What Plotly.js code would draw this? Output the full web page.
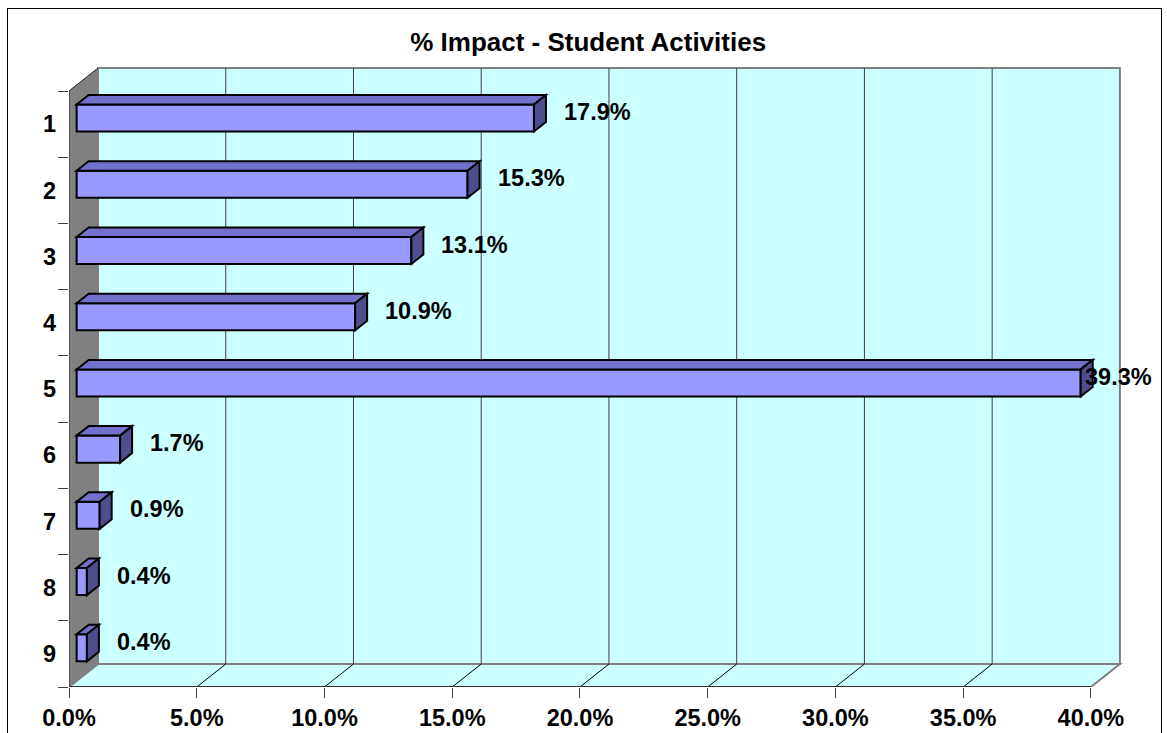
<!DOCTYPE html>
<html>
<head>
<meta charset="utf-8">
<script src="https://cdn.plot.ly/plotly-3.0.1.min.js"></script>
<style>
  html, body { margin: 0; padding: 0; background: #fff; }
  #wrap { position: relative; width: 1167px; height: 733px; overflow: hidden; }
  #chart { position: absolute; left: 0; top: 0; width: 1167px; height: 733px; }
  #frame { position: absolute; left: 7px; top: 8px; width: 1153px; height: 740px;
           border: 1px solid #000; pointer-events: none; }
</style>
</head>
<body>
<div id="wrap">
  <div id="chart"></div>
  <div id="frame"></div>
</div>
<script>
// ---- data ----
const categories = ['1', '2', '3', '4', '5', '6', '7', '8', '9'];
const impact = [17.9, 15.3, 13.1, 10.9, 39.3, 1.7, 0.9, 0.4, 0.4];
const tickValues = [0, 5, 10, 15, 20, 25, 30, 35, 40];
const tickLabels = ['0.0%', '5.0%', '10.0%', '15.0%', '20.0%', '25.0%', '30.0%', '35.0%', '40.0%'];
const valueLabels = ['17.9%', '15.3%', '13.1%', '10.9%', '39.3%', '1.7%', '0.9%', '0.4%', '0.4%'];
const chartTitle = '% Impact - Student Activities';

// ---- 3D geometry (in axis units) ----
const XMAX = 41.53;          // axis range beyond 40 to hold the back plane
const YTOP = 0.1225;         // axis range above first band for the back plane
const DXB = 1.135, DYB = 0.347;   // depth of the box
const BX = 0.30, BY = 0.092;      // bar front-face depth offset
const DDX = 0.47, DDY = 0.1435;   // bar depth
const HALF = 0.204;               // half bar thickness
const LABEL_GAP = 1.1, LABEL_MAX = 39.7;

const pos = categories.map((c, i) => i + 1);
const bounds = [0.5].concat(pos.map(p => p + 0.5));
const yFirst = bounds[0], yLast = bounds[bounds.length - 1];
const xFirst = tickValues[0], xLast = tickValues[tickValues.length - 1];

const FONT = 'Liberation Sans, Arial, sans-serif';
const shapes = [];
function path(pts) { return 'M' + pts.map(p => p[0] + ',' + p[1]).join(' L') + ' Z'; }

// back plane
shapes.push({type: 'rect', xref: 'x', yref: 'y', layer: 'below',
  x0: xFirst + DXB, x1: xLast + DXB, y0: yFirst - DYB, y1: yLast - DYB,
  fillcolor: '#CCFFFF', line: {color: '#808080', width: 2}});
// floor
shapes.push({type: 'path', xref: 'x', yref: 'y', layer: 'below',
  path: path([[xFirst, yLast], [xLast, yLast], [xLast + DXB, yLast - DYB], [xFirst + DXB, yLast - DYB]]),
  fillcolor: '#CCFFFF', line: {color: '#808080', width: 2}});
// gridlines on back plane and floor
tickValues.slice(1, -1).forEach(v => {
  shapes.push({type: 'line', xref: 'x', yref: 'y', layer: 'below',
    x0: v + DXB, x1: v + DXB, y0: yFirst - DYB, y1: yLast - DYB,
    line: {color: '#404040', width: 1}});
  shapes.push({type: 'line', xref: 'x', yref: 'y', layer: 'below',
    x0: v + DXB, x1: v, y0: yLast - DYB, y1: yLast,
    line: {color: '#000000', width: 1}});
});
// left wall
shapes.push({type: 'path', xref: 'x', yref: 'y', layer: 'below',
  path: path([[xFirst, yFirst], [xFirst + DXB, yFirst - DYB], [xFirst + DXB, yLast - DYB], [xFirst, yLast]]),
  fillcolor: '#808080', line: {width: 0}});
shapes.push({type: 'line', xref: 'x', yref: 'y', layer: 'below',
  x0: xFirst, x1: xFirst + DXB, y0: yFirst, y1: yFirst - DYB, line: {color: '#202020', width: 1}});
shapes.push({type: 'line', xref: 'x', yref: 'y', layer: 'below',
  x0: xFirst, x1: xFirst, y0: yFirst, y1: yLast, line: {color: '#202020', width: 1}});
// front floor edge (axis line)
shapes.push({type: 'line', xref: 'x', yref: 'y', layer: 'below',
  x0: xFirst, x1: xLast, y0: yLast, y1: yLast, line: {color: '#303030', width: 2}});

// bar top and side faces
impact.forEach((v, i) => {
  const yc = pos[i] - BY;
  const yT = yc - HALF, yB = yc + HALF;
  const x0 = BX, x1 = BX + v;
  shapes.push({type: 'path', xref: 'x', yref: 'y', layer: 'above',
    path: path([[x0, yT], [x1, yT], [x1 + DDX, yT - DDY], [x0 + DDX, yT - DDY]]),
    fillcolor: '#7272CC', line: {color: '#000', width: 2}});
  shapes.push({type: 'path', xref: 'x', yref: 'y', layer: 'above',
    path: path([[x1, yT], [x1 + DDX, yT - DDY], [x1 + DDX, yB - DDY], [x1, yB]]),
    fillcolor: '#4E4E8E', line: {color: '#000', width: 2}});
});

const annotations = impact.map((v, i) => ({
  xref: 'x', yref: 'y', x: Math.min(BX + v + LABEL_GAP, LABEL_MAX), y: pos[i],
  xanchor: 'left', yanchor: 'middle', yshift: 12, showarrow: false,
  text: valueLabels[i], font: {family: FONT, size: 23.5, color: '#000', weight: 'bold'}
}));

const trace = {
  type: 'bar', orientation: 'h',
  y: pos, x: impact, base: BX,
  width: 2 * HALF, offset: -HALF - BY,
  marker: {color: '#9999FF', line: {color: '#000', width: 2}},
  hoverinfo: 'skip', cliponaxis: false
};

const layout = {
  width: 1167, height: 733,
  margin: {l: 69, r: 37, t: 66, b: 46},
  paper_bgcolor: 'rgba(0,0,0,0)', plot_bgcolor: 'rgba(0,0,0,0)',
  showlegend: false,
  title: {text: chartTitle, xref: 'container', yref: 'container', x: 0.504, y: 0.943,
          xanchor: 'center', yanchor: 'middle',
          font: {family: FONT, size: 26, color: '#000', weight: 'bold'}},
  xaxis: {range: [0, XMAX], tickmode: 'array', tickvals: tickValues, ticktext: tickLabels,
          ticks: 'outside', ticklen: 10, tickwidth: 1, tickcolor: '#404040',
          showgrid: false, zeroline: false, showline: false, fixedrange: true,
          tickfont: {family: FONT, size: 23.5, color: '#000', weight: 'bold'}},
  yaxis: {range: [yLast, YTOP], tickmode: 'array', tickvals: pos, ticktext: categories,
          ticks: '', showgrid: false, zeroline: false, showline: false, fixedrange: true,
          ticklabelstandoff: 12,
          minor: {tickmode: 'array', tickvals: bounds, ticks: 'outside', ticklen: 10,
                  tickwidth: 1, tickcolor: '#404040', showgrid: false},
          tickfont: {family: FONT, size: 23.5, color: '#000', weight: 'bold'}},
  shapes: shapes,
  annotations: annotations
};

Plotly.newPlot('chart', [trace], layout, {staticPlot: true, displayModeBar: false});
</script>
</body>
</html>
